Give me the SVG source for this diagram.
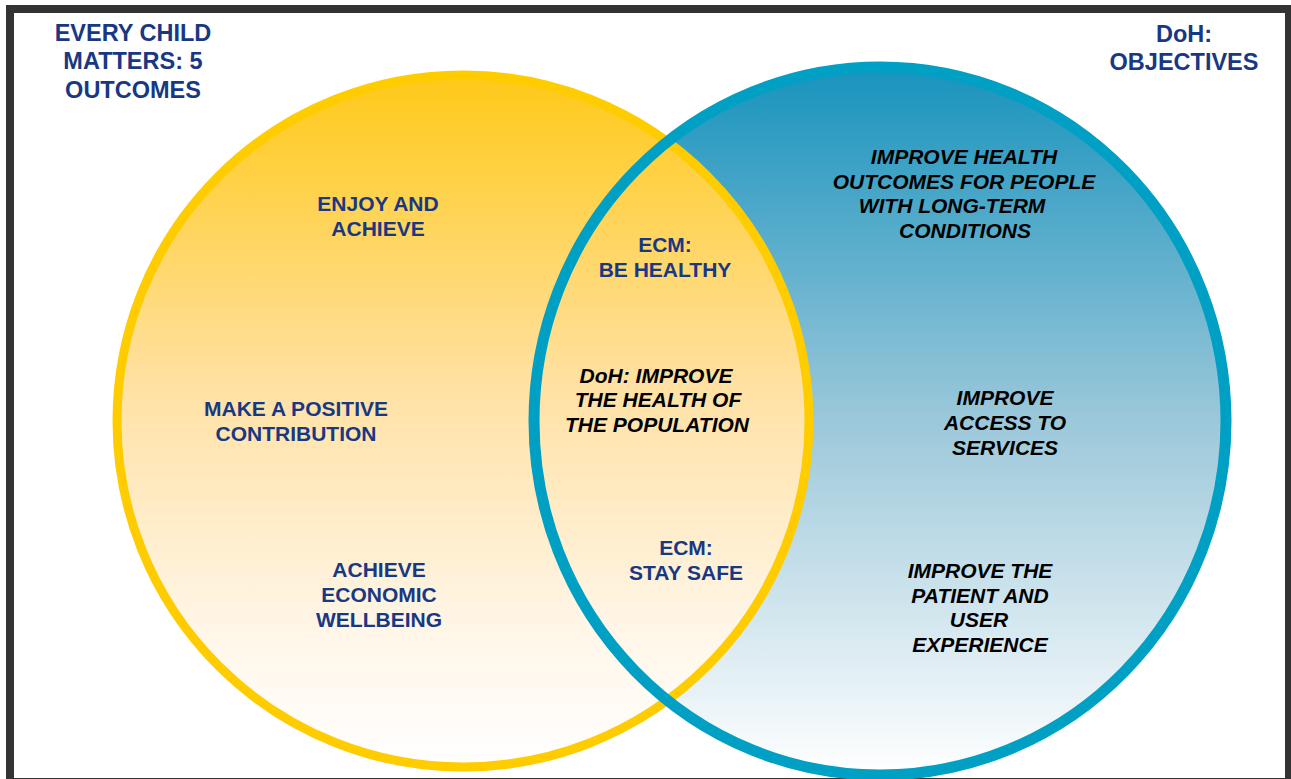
<svg xmlns="http://www.w3.org/2000/svg" width="1291" height="779" viewBox="0 0 1291 779">
  <defs>
    <linearGradient id="gy" x1="0" y1="0" x2="0" y2="1">
      <stop offset="0" stop-color="#FFC918"/>
      <stop offset="0.45" stop-color="#FFE1A3"/>
      <stop offset="0.8" stop-color="#FFF6E8"/>
      <stop offset="1" stop-color="#FFFFFF"/>
    </linearGradient>
    <linearGradient id="gb" x1="0" y1="0" x2="0" y2="1">
      <stop offset="0" stop-color="#1893BD"/>
      <stop offset="0.5" stop-color="#9CC8DA"/>
      <stop offset="1" stop-color="#FFFFFF"/>
    </linearGradient>
    <style>
      .navy { font-family: "Liberation Sans", Arial, sans-serif; font-weight: bold; font-size: 21px; fill: #183883; text-anchor: middle; }
      .head { font-size: 23.5px; }
      .ital { font-family: "Liberation Sans", Arial, sans-serif; font-weight: bold; font-style: italic; font-size: 21px; fill: #000000; text-anchor: middle; }
    </style>
  </defs>
  <rect x="0" y="0" width="1291" height="779" fill="#FFFFFF"/>
  <rect id="frame" x="10" y="9" width="1279" height="773" fill="none" stroke="#333333" stroke-width="8"/>

  <g id="circles">
    <ellipse id="doh-fill" cx="880" cy="421" rx="346" ry="354" fill="url(#gb)"/>
    <circle id="ecm-fill" cx="463" cy="421" r="346" fill="url(#gy)"/>
    <circle id="ecm-stroke" cx="463" cy="421" r="346" fill="none" stroke="#FFCC00" stroke-width="9"/>
    <ellipse id="doh-stroke" cx="880" cy="421" rx="346" ry="354" fill="none" stroke="#00A0C4" stroke-width="11"/>
  </g>

  <g id="title-ecm">
    <text class="navy head" x="133" y="41">EVERY CHILD</text>
    <text class="navy head" x="133" y="69">MATTERS: 5</text>
    <text class="navy head" x="133" y="98">OUTCOMES</text>
  </g>
  <g id="title-doh">
    <text class="navy head" x="1184" y="42">DoH:</text>
    <text class="navy head" x="1184" y="70">OBJECTIVES</text>
  </g>

  <g id="enjoy">
    <text class="navy" x="378" y="211">ENJOY AND</text>
    <text class="navy" x="378" y="236">ACHIEVE</text>
  </g>
  <g id="positive">
    <text class="navy" x="296" y="416">MAKE A POSITIVE</text>
    <text class="navy" x="296" y="441">CONTRIBUTION</text>
  </g>
  <g id="economic">
    <text class="navy" x="379" y="577">ACHIEVE</text>
    <text class="navy" x="379" y="602">ECONOMIC</text>
    <text class="navy" x="379" y="627">WELLBEING</text>
  </g>
  <g id="healthy">
    <text class="navy" x="665" y="252">ECM:</text>
    <text class="navy" x="665" y="277">BE HEALTHY</text>
  </g>
  <g id="population">
    <text class="ital" x="656" y="383">DoH: IMPROVE</text>
    <text class="ital" x="658" y="407">THE HEALTH OF</text>
    <text class="ital" x="657" y="432">THE POPULATION</text>
  </g>
  <g id="safe">
    <text class="navy" x="686" y="555">ECM:</text>
    <text class="navy" x="686" y="580">STAY SAFE</text>
  </g>
  <g id="longterm">
    <text class="ital" x="964" y="164">IMPROVE HEALTH</text>
    <text class="ital" x="964" y="189">OUTCOMES FOR PEOPLE</text>
    <text class="ital" x="952" y="213">WITH LONG-TERM</text>
    <text class="ital" x="965" y="238">CONDITIONS</text>
  </g>
  <g id="access">
    <text class="ital" x="1005" y="405">IMPROVE</text>
    <text class="ital" x="1005" y="430">ACCESS TO</text>
    <text class="ital" x="1005" y="455">SERVICES</text>
  </g>
  <g id="experience">
    <text class="ital" x="980" y="578">IMPROVE THE</text>
    <text class="ital" x="980" y="603">PATIENT AND</text>
    <text class="ital" x="979" y="627">USER</text>
    <text class="ital" x="980" y="652">EXPERIENCE</text>
  </g>
  <g id="connectors"/>
</svg>
